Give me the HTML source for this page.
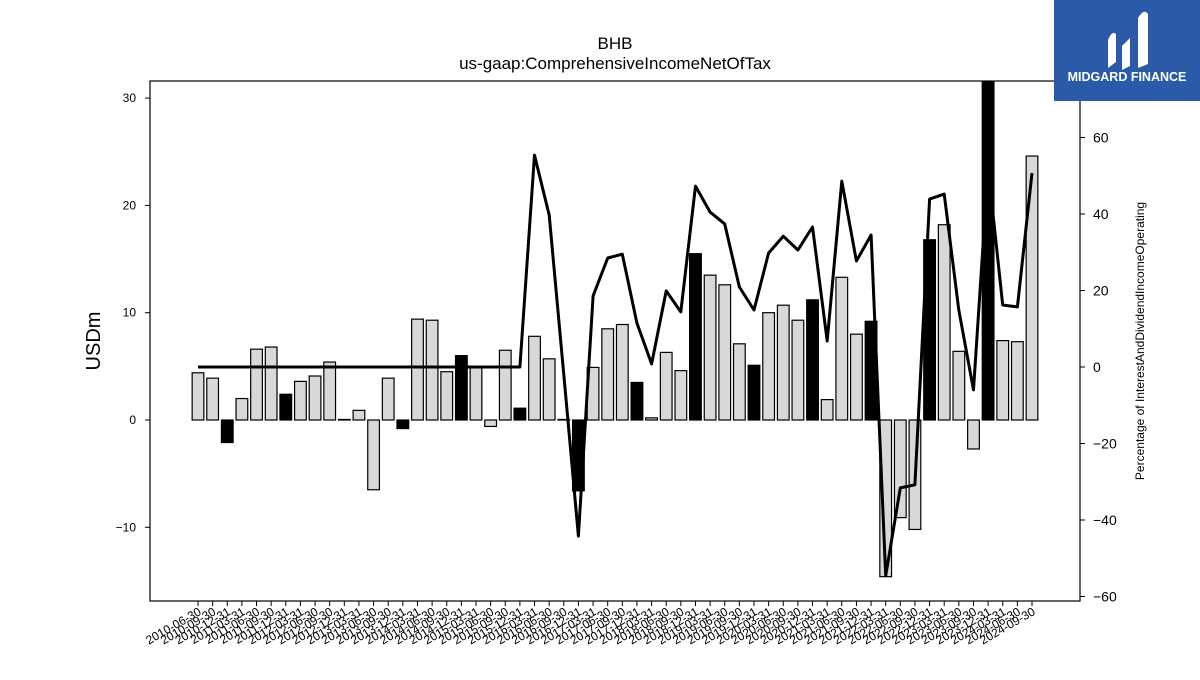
<!DOCTYPE html>
<html><head><meta charset="utf-8"><style>
body{margin:0;background:#fff;width:1200px;height:675px;overflow:hidden;font-family:"Liberation Sans",sans-serif}
</style></head><body>
<svg id="c" width="1200" height="675" xmlns="http://www.w3.org/2000/svg" font-family="Liberation Sans, sans-serif">
<text x="615" y="49" text-anchor="middle" font-size="17">BHB</text>
<text x="615" y="69" text-anchor="middle" font-size="17">us-gaap:ComprehensiveIncomeNetOfTax</text>
<text transform="translate(100,341) rotate(-90)" text-anchor="middle" font-size="20">USDm</text>
<text transform="translate(1144,341) rotate(-90)" text-anchor="middle" font-size="12">Percentage of InterestAndDividendIncomeOperating</text>
<defs><clipPath id="pc"><rect x="150" y="81" width="930" height="520"/></clipPath></defs>
<g id="bars" clip-path="url(#pc)"></g>
<g id="line" clip-path="url(#pc)"></g>
<rect x="150" y="81" width="930" height="520" fill="none" stroke="#000" stroke-width="1.2"/>
<g id="axes"></g>
<g>
<rect x="1054" y="0" width="146" height="101" fill="#2b5aa9"/>
<path d="M1108 68 L1108 40 Q1112 30 1116 34 L1116 62 Z M1122 70 L1122 46 L1130 38 L1130 66 Z M1138 68 L1138 18 Q1144 8 1148 14 L1148 64 Z" fill="#fff"/>
<text x="1127" y="81" text-anchor="middle" font-size="12.5" font-weight="bold" fill="#fff">MIDGARD FINANCE</text>
</g>
</svg>
<script>
const dates=["2010-06-30","2010-09-30","2010-12-31","2011-03-31","2011-06-30","2011-09-30","2011-12-31","2012-03-31","2012-06-30","2012-09-30","2012-12-31","2013-03-31","2013-06-30","2013-09-30","2013-12-31","2014-03-31","2014-06-30","2014-09-30","2014-12-31","2015-03-31","2015-06-30","2015-09-30","2015-12-31","2016-03-31","2016-06-30","2016-09-30","2016-12-31","2017-03-31","2017-06-30","2017-09-30","2017-12-31","2018-03-31","2018-06-30","2018-09-30","2018-12-31","2019-03-31","2019-06-30","2019-09-30","2019-12-31","2020-03-31","2020-06-30","2020-09-30","2020-12-31","2021-03-31","2021-06-30","2021-09-30","2021-12-31","2022-03-31","2022-06-30","2022-09-30","2022-12-31","2023-03-31","2023-06-30","2023-09-30","2023-12-31","2024-03-31","2024-06-30","2024-09-30"];
const income=[4.4,3.9,-2.1,2.0,6.6,6.8,2.4,3.6,4.1,5.4,0.05,0.9,-6.5,3.9,-0.8,9.4,9.3,4.5,6.0,4.9,-0.6,6.5,1.1,7.8,5.7,0.05,-6.6,4.9,8.5,8.9,3.5,0.2,6.3,4.6,15.5,13.5,12.6,7.1,5.1,10.0,10.7,9.3,11.2,1.9,13.3,8.0,9.2,-14.6,-9.1,-10.2,16.8,18.2,6.4,-2.7,33,7.4,7.3,24.6];
const pct=[0,0,0,0,0,0,0,0,0,0,0,0,0,0,0,0,0,0,0,0,0,0,0,55.4,39.7,-2,-44.2,18.6,28.5,29.5,11.5,0.8,19.9,14.4,47.3,40.5,37.4,20.9,14.9,29.8,34.2,30.6,36.6,6.8,48.6,27.7,34.5,-54.6,-31.6,-30.8,43.9,45.2,14.9,-6,52,16.2,15.7,50.7];
const leftTicks=[30,20,10,0,-10];
const rightTicks=[60,40,20,0,-20,-40,-60];
const NS="http://www.w3.org/2000/svg";
const x0=198,x1=1032;
const xs=i=>x0+(x1-x0)*i/(dates.length-1);
const yL=v=>420-v*10.73;
const yR=v=>367-v*3.825;
function mk(tag,at,parent){const e=document.createElementNS(NS,tag);for(const k in at)e.setAttribute(k,at[k]);parent.appendChild(e);return e;}
const bars=document.getElementById('bars'),line=document.getElementById('line'),axes=document.getElementById('axes');
const bw=11.7;
income.forEach((v,i)=>{
  const q4=dates[i].endsWith('12-31');
  const y=Math.min(yL(v),yL(0)),h=Math.abs(yL(v)-yL(0));
  const r=mk('rect',{x:xs(i)-bw/2,y:y,width:bw,height:Math.max(h,0.5),fill:q4?'#000':'#d8d8d8',stroke:'#000','stroke-width':1.2},bars);
  
  
});
let d='';pct.forEach((v,i)=>{d+=(i?'L':'M')+xs(i).toFixed(1)+' '+yR(v).toFixed(1);});
const p=mk('path',{d:d,fill:'none',stroke:'#000','stroke-width':3,'stroke-linejoin':'round'},line);


leftTicks.forEach(t=>{
  const y=yL(t);
  mk('line',{x1:145,x2:150,y1:y,y2:y,stroke:'#000'},axes);
  const tx=mk('text',{x:136,y:y+4,'text-anchor':'end','font-size':12},axes);
  tx.textContent=String(t).replace('-','\u2212');
  
  
});
rightTicks.forEach(t=>{
  const y=yR(t);
  mk('line',{x1:1080,x2:1085,y1:y,y2:y,stroke:'#000'},axes);
  const tx=mk('text',{x:1093,y:y+5,'font-size':14},axes);
  tx.textContent=String(t).replace('-','\u2212');
  
  
});
dates.forEach((dt,i)=>{
  const x=xs(i);
  mk('line',{x1:x,x2:x,y1:601,y2:606,stroke:'#000'},axes);
  const tx=mk('text',{x:x+4,y:614,'text-anchor':'end','font-size':12,transform:`rotate(-30 ${x+4} 614)`},axes);
  tx.textContent=dt;
  
  
});
</script>
</body></html>
